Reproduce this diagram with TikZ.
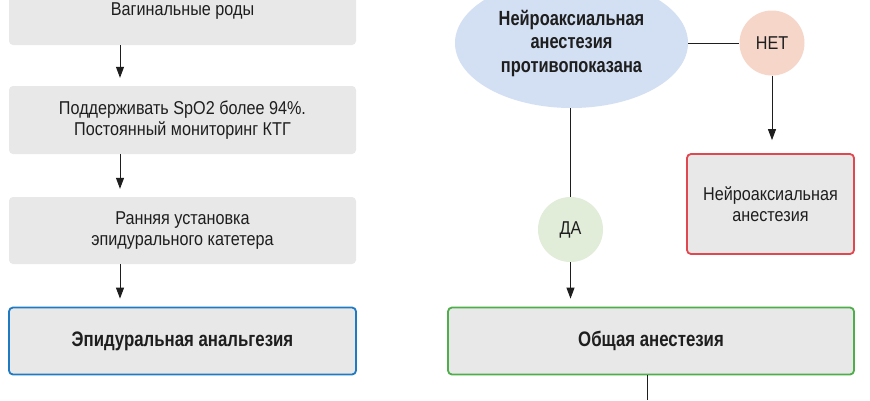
\documentclass[tikz,border=0pt]{standalone}
\usepackage{fontspec}
\setmainfont{Liberation Sans}[FakeStretch=0.87, BoldFeatures={FakeStretch=0.80}]
\usetikzlibrary{arrows.meta,shapes.geometric,calc}
\definecolor{boxgray}{HTML}{E8E8E8}
\definecolor{txt}{HTML}{1E1E1E}
\definecolor{bluebd}{HTML}{1F7AC4}
\definecolor{redbd}{HTML}{E0474F}
\definecolor{greenbd}{HTML}{4DAE4A}
\definecolor{ellfill}{HTML}{D3DFF2}
\definecolor{netfill}{HTML}{F6D6C8}
\definecolor{dafill}{HTML}{E1ECD9}
\tikzset{
  stepbox/.style={rectangle, rounded corners=4pt, fill=boxgray, draw=none, align=center, text=txt,
    font=\fontsize{18.6}{20.5}\selectfont, inner sep=0pt},
  boldtext/.style={font=\fontsize{21}{24}\selectfont\bfseries},
  bluebox/.style={stepbox, draw=bluebd, line width=1.8pt},
  redbox/.style={stepbox, draw=redbd, line width=1.8pt},
  greenbox/.style={stepbox, draw=greenbd, line width=1.8pt},
  badge/.style={circle, minimum size=65pt, inner sep=0pt, text=txt, font=\fontsize{18.6}{21}\selectfont},
  arr/.style={line width=1pt, draw=txt, -{Triangle[length=11pt,width=8pt]}},
  ln/.style={line width=1pt, draw=txt}
}
\begin{document}
\begin{tikzpicture}[x=1pt,y=-1pt]
\clip (0,0) rectangle (870,400);
\fill[white] (0,0) rectangle (870,400);
% left column
\node[stepbox, minimum width=347pt, minimum height=68pt] (b1) at (182.5,11) {Вагинальные роды};
\node[stepbox, minimum width=347pt, minimum height=68pt] (b2) at (182.5,120) {Поддерживать SpO2 более 94\%.\\Постоянный мониторинг КТГ};
\node[stepbox, minimum width=347pt, minimum height=67pt] (b3) at (182.5,230.5) {Ранняя установка\\эпидурального катетера};
\node[bluebox, boldtext, minimum width=347pt, minimum height=67pt] (b4) at (182.5,341) {Эпидуральная анальгезия};
\coordinate (ax) at (120,0);
\draw[arr, shorten >=8pt] (b1.south -| ax) -- (b2.north -| ax);
\draw[arr, shorten >=8pt] (b2.south -| ax) -- (b3.north -| ax);
\draw[arr, shorten >=8pt] (b3.south -| ax) -- (b4.north -| ax);
% right side
\node[ellipse, fill=ellfill, minimum width=233pt, minimum height=130pt, inner sep=0pt, align=center, text=txt,
  font=\fontsize{20.5}{23.5}\selectfont\bfseries] (ell) at (571.5,43) {Нейроаксиальная\\анестезия\\противопоказана};
\node[badge, fill=netfill] (net) at (772,43) {НЕТ};
\node[badge, fill=dafill] (da) at (570.5,229.5) {ДА};
\node[redbox, minimum width=167pt, minimum height=100pt] (nb) at (770.5,204) {Нейроаксиальная\\анестезия};
\node[greenbox, boldtext, minimum width=406pt, minimum height=67pt] (gb) at (651,341) {Общая анестезия};
\coordinate (gend) at (647,400);
\draw[ln] (ell.east) -- (net.west);
\draw[arr, shorten >=13pt] (net.south) -- (nb.north -| net.south);
\draw[ln] (ell.south -| da.north) -- (da.north);
\draw[arr, shorten >=8pt] (da.south) -- (gb.north -| da.south);
\draw[ln] (gb.south -| gend) -- (gend);
\end{tikzpicture}
\end{document}
